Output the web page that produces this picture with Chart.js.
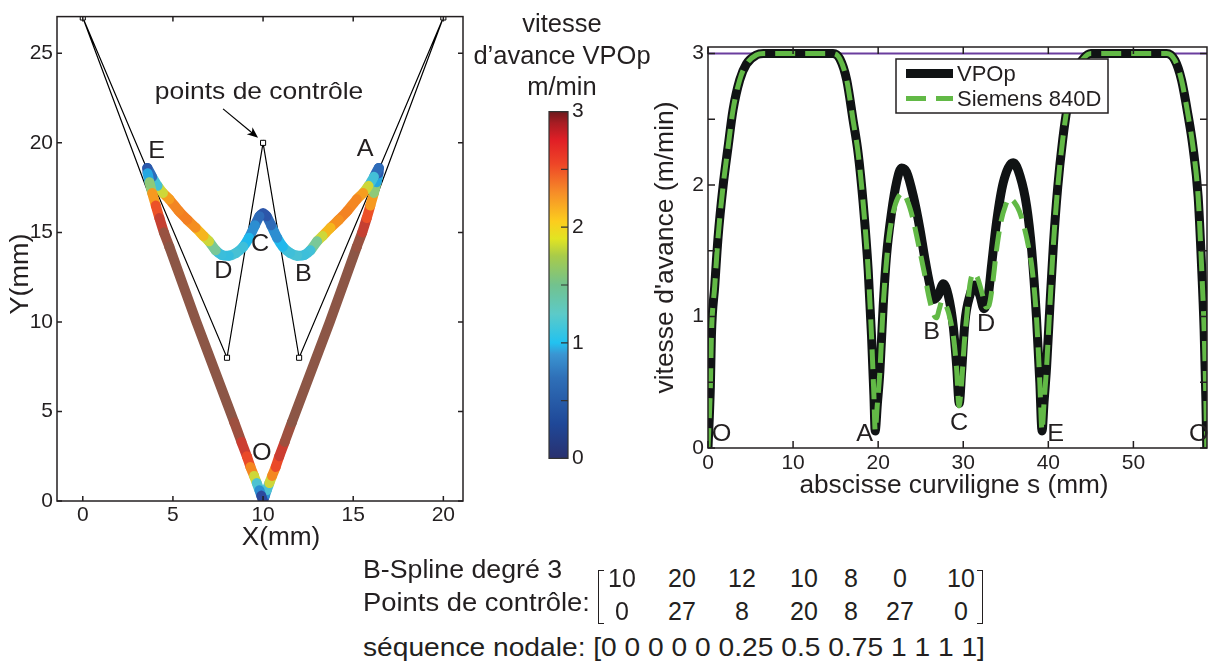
<!DOCTYPE html>
<html>
<head>
<meta charset="utf-8">
<script src="https://cdn.jsdelivr.net/npm/chart.js@4.4.1/dist/chart.umd.min.js"></script>
<style>
  body { margin: 0; background: #fff; }
  #page { position: relative; width: 1208px; height: 664px; overflow: hidden;
          font-family: 'Liberation Sans', Arial, Helvetica, sans-serif; color: #231f20; }
  .box { position: absolute; }
  .txt { position: absolute; white-space: pre; font-size: 25px; line-height: 1; transform-origin: 0 0; }
  .num { position: absolute; width: 60px; text-align: center; font-size: 25px; line-height: 1; }
  .brk { position: absolute; width: 5px; height: 52px; border: 1.5px solid #231f20; }
</style>
</head>
<body>
<div id="page">
  <div class="box" style="left:0;top:0;width:480px;height:560px"><canvas id="pathChart"></canvas></div>
  <div class="box" style="left:520px;top:95px;width:100px;height:380px"><canvas id="cbarChart"></canvas></div>
  <div class="box" style="left:600px;top:0;width:608px;height:520px"><canvas id="speedChart"></canvas></div>

  <div class="txt" style="left:442px;top:8px;width:240px;text-align:center;line-height:31.5px;font-size:25.5px">vitesse
d’avance VPOp
m/min</div>

  <div class="txt fit" data-w="199" style="left:363px;top:557px">B-Spline degré 3</div>
  <div class="txt fit" data-w="227" style="left:363px;top:590px">Points de contrôle:</div>
  <div class="txt fit" data-w="622" style="left:363px;top:635px" id="knotLine"></div>
  <div class="brk" style="left:598px;top:570px;border-right:none"></div>
  <div class="brk" style="left:977px;top:570px;border-left:none"></div>
  <div id="matrix"></div>
</div>

<script>
// ---- data ----
// control polygon of the B-spline (also the matrix under the plot)
const ctrlX = [10, 20, 12, 10, 8, 0, 10];
const ctrlY = [0, 27, 8, 20, 8, 27, 0];
const knots = [0, 0, 0, 0, 0, 0.25, 0.5, 0.75, 1, 1, 1, 1];

const pathX = [10.00, 10.10, 10.20, 10.35, 10.50, 10.70, 10.90, 11.20, 11.60, 13.70, 15.20, 15.50, 15.75, 15.95, 16.15, 16.30, 16.40, 16.42,
               16.15, 15.85, 15.55, 15.20, 14.67, 14.20, 13.74, 13.30, 13.00, 12.63, 12.30, 11.90, 11.50, 11.10, 10.78, 10.45, 10.20, 10.00,
               9.80, 9.55, 9.22, 8.90, 8.50, 8.10, 7.70, 7.37, 7.00, 6.70, 6.26, 5.80, 5.33, 4.80, 4.45, 4.15, 3.85, 3.58,
               3.60, 3.70, 3.85, 4.05, 4.25, 4.50, 4.80, 6.30, 8.40, 8.80, 9.10, 9.30, 9.50, 9.65, 9.80, 9.90, 10.00];
const pathY = [0.00, 0.30, 0.60, 1.00, 1.40, 1.90, 2.50, 3.30, 4.40, 10.00, 14.20, 15.00, 15.80, 16.50, 17.20, 17.80, 18.30, 18.60,
               18.10, 17.60, 17.20, 16.85, 16.19, 15.70, 15.26, 14.80, 14.50, 14.00, 13.75, 13.70, 13.85, 14.20, 14.70, 15.40, 15.90, 16.08,
               15.90, 15.40, 14.70, 14.20, 13.85, 13.70, 13.75, 14.00, 14.50, 14.80, 15.26, 15.70, 16.19, 16.85, 17.20, 17.60, 18.10, 18.60,
               18.30, 17.80, 17.20, 16.50, 15.80, 15.00, 14.20, 10.00, 4.40, 3.30, 2.50, 1.90, 1.40, 1.00, 0.60, 0.30, 0.00];
const pathV = [0.00, 0.50, 1.00, 1.50, 1.90, 2.30, 2.60, 2.85, 3.00, 3.00, 3.00, 2.90, 2.60, 2.20, 1.80, 1.20, 0.60, 0.12,
               0.90, 1.50, 1.90, 2.05, 2.15, 2.10, 2.00, 1.80, 1.60, 1.25, 1.13, 1.20, 1.25, 1.10, 0.90, 0.60, 0.40, 0.30,
               0.40, 0.60, 0.90, 1.10, 1.25, 1.20, 1.06, 1.25, 1.60, 1.80, 2.00, 2.12, 2.17, 2.05, 1.90, 1.50, 0.90, 0.13,
               0.60, 1.20, 1.80, 2.20, 2.60, 2.90, 3.00, 3.00, 3.00, 2.85, 2.60, 2.30, 1.90, 1.50, 1.00, 0.50, 0.00];

const pathXTicks = [0, 5, 10, 15, 20];
const pathYTicks = [0, 5, 10, 15, 20, 25];
const pathLabelText = ['E', 'A', 'C', 'D', 'B', 'O'];
const pathLabelX = [4.10, 15.66, 9.84, 7.80, 12.24, 9.93];
const pathLabelY = [19.52, 19.61, 14.33, 12.85, 12.67, 2.67];

// feedrate along the curvilinear abscissa s (mm)
const sVPOp = [0, 0.28, 0.40, 0.79, 1.18, 1.77, 2.36, 2.94, 3.73, 4.51, 5.70, 6.50, 14.70, 15.50, 16.30, 17.06, 17.65, 18.24, 18.83, 19.22,
               19.50, 19.65, 19.90, 20.20, 20.59, 20.98, 21.57, 22.16, 22.75, 23.33, 24.12, 24.90, 25.49, 26.08, 26.55, 27.06, 27.65, 28.24,
               28.82, 29.22, 29.53, 29.81, 30.20, 30.78, 31.37, 31.96, 32.43, 32.94, 33.33, 33.92, 34.71, 35.88, 36.67, 37.45, 38.05, 38.60,
               39.00, 39.26, 39.50, 39.80, 40.20, 40.60, 41.10, 41.70, 42.30, 43.10, 44.10, 45.00, 53.90, 54.87, 55.65, 56.40, 57.00, 57.61,
               58.00, 58.31, 58.51, 58.62];
const vVPOp = [0, 0.47, 0.85, 1.23, 1.60, 1.99, 2.29, 2.57, 2.80, 2.92, 2.99, 3.00, 3.00, 2.96, 2.80, 2.49, 2.24, 1.86, 1.35, 0.85,
               0.40, 0.13, 0.33, 0.58, 1.08, 1.46, 1.79, 2.02, 2.13, 2.10, 1.92, 1.67, 1.44, 1.24, 1.13, 1.16, 1.25, 1.16,
               0.93, 0.63, 0.34, 0.58, 0.96, 1.16, 1.24, 1.16, 1.06, 1.16, 1.39, 1.72, 2.02, 2.17, 2.07, 1.84, 1.50, 1.00,
               0.50, 0.13, 0.35, 0.62, 1.10, 1.55, 1.98, 2.35, 2.62, 2.85, 2.96, 3.00, 3.00, 2.95, 2.80, 2.54, 2.29, 1.91,
               1.40, 0.90, 0.39, 0.00];
const sSiemens = [0, 0.28, 0.40, 0.79, 1.18, 1.77, 2.36, 2.94, 3.73, 4.51, 5.70, 6.50, 14.70, 15.50, 16.30, 17.06, 17.65, 18.24, 18.83, 19.22,
                  19.50, 19.65, 19.90, 20.20, 20.59, 20.98, 21.30, 21.80, 22.30, 22.90, 23.50, 24.10, 24.70, 25.40, 26.00, 26.50, 26.85, 27.20,
                  27.50, 28.00, 28.50, 28.90, 29.22, 29.50, 29.81, 30.10, 30.45, 30.80, 31.20, 31.70, 32.20, 32.70, 33.00, 33.40, 33.90, 34.40,
                  35.00, 35.40, 36.00, 36.60, 37.20, 37.70, 38.10, 38.60, 39.00, 39.26, 39.50, 39.80, 40.20, 40.60, 41.10, 41.70, 42.30, 43.10,
                  44.10, 45.00, 53.90, 54.87, 55.65, 56.40, 57.00, 57.61, 58.00, 58.31, 58.51, 58.62];
const vSiemens = [0, 0.47, 0.85, 1.23, 1.60, 1.99, 2.29, 2.57, 2.80, 2.92, 2.99, 3.00, 3.00, 2.96, 2.80, 2.49, 2.24, 1.86, 1.35, 0.85,
                  0.40, 0.13, 0.33, 0.58, 1.08, 1.42, 1.62, 1.80, 1.90, 1.94, 1.87, 1.74, 1.56, 1.34, 1.14, 1.02, 0.99, 1.06,
                  1.12, 1.08, 0.97, 0.82, 0.60, 0.32, 0.50, 0.78, 1.03, 1.25, 1.33, 1.29, 1.18, 1.07, 1.08, 1.22, 1.50, 1.71,
                  1.85, 1.90, 1.87, 1.80, 1.67, 1.52, 1.36, 1.00, 0.50, 0.13, 0.35, 0.62, 1.10, 1.55, 1.98, 2.35, 2.62, 2.85,
                  2.96, 3.00, 3.00, 2.95, 2.80, 2.54, 2.29, 1.91, 1.40, 0.90, 0.39, 0.00];
const sVmax = [0, 58.65];
const vVmax = [3, 3];

const speedXTicks = [0, 10, 20, 30, 40, 50];
const speedYTicks = [0, 0.5, 1, 1.5, 2, 2.5, 3];
const speedLabelText = ['O', 'A', 'B', 'C', 'D', 'E', 'O'];
const speedLabelX = [1.6, 18.4, 26.3, 29.5, 32.7, 40.85, 57.7];
const speedLabelY = [0.10, 0.10, 0.88, 0.19, 0.94, 0.10, 0.10];

const cbarTicks = [0, 0.5, 1, 1.5, 2, 2.5, 3];

// ---- colour maps (style) ----
const curveStops  = [0, 0.3, 0.7, 1.0, 1.3, 1.55, 1.8, 1.95, 2.3, 2.6, 2.85, 3.0];
const curveColors = ['#2b2c7c', '#2c4fa4', '#2f86cc', '#1fb8ec', '#55c4cc', '#9ccb64', '#f0df1c', '#f7a21e', '#ef6226', '#e5302a', '#b04a38', '#8c5646'];
const cbarStops   = [0, 0.3, 0.7, 0.9, 1.0, 1.25, 1.5, 1.75, 1.9, 2.05, 2.3, 2.55, 2.75, 2.9, 3.0];
const cbarColors  = ['#29306f', '#1f4898', '#2f70b8', '#3a95d2', '#22c2f0', '#5ccac8', '#72c28e', '#a8cb4a', '#e2e422', '#fccd1e', '#f68d28', '#ee4527', '#e11f26', '#a81c23', '#6e191c'];

const ink = '#231f20';
const FONT = "'Liberation Sans', Arial, Helvetica, sans-serif";
Chart.defaults.font.family = FONT;
Chart.defaults.font.size = 21;
Chart.defaults.color = ink;

function hexRgb(h) {
    return [parseInt(h.slice(1, 3), 16), parseInt(h.slice(3, 5), 16), parseInt(h.slice(5, 7), 16)];
}

function mapColor(v, stops, colors) {
    if (v <= stops[0]) return colors[0];
    for (let i = 1; i < stops.length; i++) {
        if (v <= stops[i]) {
            const t = (v - stops[i - 1]) / (stops[i] - stops[i - 1]);
            const a = hexRgb(colors[i - 1]), b = hexRgb(colors[i]);
            const c = a.map((x, k) => Math.round(x + (b[k] - x) * t));
            return `rgb(${c[0]},${c[1]},${c[2]})`;
        }
    }
    return colors[colors.length - 1];
}

function drawText(ctx, text, x, y, size, opt = {}) {
    ctx.save();
    ctx.translate(x, y);
    if (opt.rotate) ctx.rotate(opt.rotate);
    ctx.scale(opt.sx || 1, 1);
    ctx.font = size + 'px ' + FONT;
    ctx.fillStyle = ink;
    ctx.textAlign = opt.align || 'center';
    ctx.textBaseline = opt.baseline || 'middle';
    ctx.fillText(text, 0, 0);
    ctx.restore();
}

// box round the plot with inward tick marks (MATLAB look)
const frame = {
    id: 'frame',
    afterDatasetsDraw(chart, args, o) {
        const { ctx, chartArea: a } = chart;
        const xs = chart.scales.x, ys = chart.scales.y;
        ctx.save();
        ctx.strokeStyle = o.color;
        ctx.lineWidth = o.width;
        ctx.strokeRect(a.left, a.top, a.right - a.left, a.bottom - a.top);
        ctx.beginPath();
        if (o.xTicks) xs.ticks.forEach(t => {
            const p = xs.getPixelForValue(t.value);
            ctx.moveTo(p, a.bottom); ctx.lineTo(p, a.bottom - o.len);
            ctx.moveTo(p, a.top); ctx.lineTo(p, a.top + o.len);
        });
        ys.ticks.forEach(t => {
            const p = ys.getPixelForValue(t.value);
            if (o.yLeft) { ctx.moveTo(a.left, p); ctx.lineTo(a.left + o.len, p); }
            ctx.moveTo(a.right, p); ctx.lineTo(a.right - o.len, p);
        });
        ctx.stroke();
        ctx.restore();
    }
};

const pathNotes = {
    id: 'pathNotes',
    afterDraw(chart) {
        const { ctx } = chart;
        const xs = chart.scales.x, ys = chart.scales.y;
        pathLabelText.forEach((t, i) =>
            drawText(ctx, t, xs.getPixelForValue(pathLabelX[i]), ys.getPixelForValue(pathLabelY[i]), 24, { sx: 1.05 }));

        // arrow to the control point (10,20)
        const px = xs.getPixelForValue(ctrlX[3]), py = ys.getPixelForValue(ctrlY[3]);
        const tx = px - 5, ty = py - 5, fx = px - 40, fy = py - 34;
        const ang = Math.atan2(ty - fy, tx - fx);
        ctx.save();
        ctx.strokeStyle = '#000'; ctx.fillStyle = '#000'; ctx.lineWidth = 1.2;
        ctx.beginPath(); ctx.moveTo(fx, fy); ctx.lineTo(tx - 6 * Math.cos(ang), ty - 6 * Math.sin(ang)); ctx.stroke();
        ctx.beginPath();
        ctx.moveTo(tx, ty);
        ctx.lineTo(tx - 11 * Math.cos(ang) + 4.5 * Math.sin(ang), ty - 11 * Math.sin(ang) - 4.5 * Math.cos(ang));
        ctx.lineTo(tx - 8 * Math.cos(ang), ty - 8 * Math.sin(ang));
        ctx.lineTo(tx - 11 * Math.cos(ang) - 4.5 * Math.sin(ang), ty - 11 * Math.sin(ang) + 4.5 * Math.cos(ang));
        ctx.closePath(); ctx.fill();
        ctx.restore();
        drawText(ctx, 'points de contrôle', px - 4, py - 44, 24, { sx: 1.1, baseline: 'alphabetic' });

        drawText(ctx, 'Y(mm)', 21, 274, 25, { rotate: -Math.PI / 2, sx: 1.08 });
        drawText(ctx, 'X(mm)', 281, 538, 25, { sx: 1.05 });
    }
};

const speedNotes = {
    id: 'speedNotes',
    afterDraw(chart) {
        const { ctx, chartArea: a } = chart;
        const xs = chart.scales.x, ys = chart.scales.y;
        speedLabelText.forEach((t, i) =>
            drawText(ctx, t, xs.getPixelForValue(speedLabelX[i]), ys.getPixelForValue(speedLabelY[i]), 24, { sx: 1.05 }));
        drawText(ctx, "vitesse d'avance (m/min)", 66, (a.top + a.bottom) / 2, 25, { rotate: -Math.PI / 2, sx: 1.06 });
        drawText(ctx, 'abscisse curviligne s (mm)', 354, 486, 25, { sx: 1.05 });

        // legend box
        const lx = 296, ly = 59, lw = 212, lh = 54;
        ctx.save();
        ctx.fillStyle = '#fff';
        ctx.fillRect(lx, ly, lw, lh);
        ctx.strokeStyle = ink; ctx.lineWidth = 1.5;
        ctx.strokeRect(lx, ly, lw, lh);
        ctx.restore();
        [0, 1].forEach((di, row) => {
            const ds = chart.data.datasets[di];
            const yy = ly + 14.5 + row * 25;
            ctx.save();
            ctx.strokeStyle = ds.borderColor;
            ctx.lineWidth = ds.borderWidth;
            ctx.setLineDash(ds.borderDash || []);
            ctx.beginPath(); ctx.moveTo(lx + 10, yy); ctx.lineTo(lx + 57, yy); ctx.stroke();
            ctx.restore();
            drawText(ctx, ds.label, lx + 61, yy + 1, 22, { align: 'left', sx: 1.0 });
        });
    }
};

function fixWidth(w) { return s => { s.width = w; }; }
function fixHeight(h) { return s => { s.height = h; }; }
function setTicks(list) { return s => { s.ticks = list.map(v => ({ value: v })); }; }
const noGrid = { display: false, drawTicks: false, tickLength: 0 };

// ---- left: tool path coloured by feedrate ----
new Chart(document.getElementById('pathChart'), {
    type: 'scatter',
    data: {
        datasets: [
            {
                label: 'trajet',
                data: pathX.map((x, i) => ({ x: x, y: pathY[i] })),
                showLine: true,
                borderWidth: 10,
                borderCapStyle: 'round',
                borderJoinStyle: 'round',
                tension: 0.2,
                pointRadius: 0,
                segment: {
                    borderColor: c => mapColor((pathV[c.p0DataIndex] + pathV[c.p1DataIndex]) / 2, curveStops, curveColors)
                },
                order: 0
            },
            {
                label: 'points de contrôle',
                data: ctrlX.map((x, i) => ({ x: x, y: ctrlY[i] })),
                showLine: true,
                borderColor: '#000',
                borderWidth: 1.2,
                pointStyle: 'rect',
                pointRadius: 3.6,
                pointBorderWidth: 1,
                pointBackgroundColor: '#fff',
                pointBorderColor: '#000',
                order: 1
            }
        ]
    },
    options: {
        responsive: true,
        maintainAspectRatio: false,
        animation: false,
        events: [],
        layout: { padding: { top: 14, right: 17, left: 0, bottom: 0 } },
        plugins: {
            legend: { display: false },
            tooltip: { enabled: false },
            frame: { color: ink, width: 1.5, len: 5, xTicks: true, yLeft: true }
        },
        scales: {
            x: {
                type: 'linear', min: -1.43, max: 21.09,
                afterBuildTicks: setTicks(pathXTicks),
                afterFit: fixHeight(59),
                grid: noGrid, border: { display: false },
                ticks: { padding: 2, maxRotation: 0, autoSkip: false }
            },
            y: {
                type: 'linear', min: 0, max: 27.05,
                afterBuildTicks: setTicks(pathYTicks),
                afterFit: fixWidth(57),
                grid: noGrid, border: { display: false },
                ticks: { padding: 4, autoSkip: false }
            }
        }
    },
    plugins: [frame, pathNotes]
});

// ---- colour bar ----
new Chart(document.getElementById('cbarChart'), {
    type: 'bar',
    data: {
        labels: [''],
        datasets: [{
            data: [[cbarTicks[0], cbarTicks[cbarTicks.length - 1]]],
            barPercentage: 1,
            categoryPercentage: 1,
            borderWidth: 0,
            backgroundColor: c => {
                const a = c.chart.chartArea;
                if (!a) return '#888';
                const g = c.chart.ctx.createLinearGradient(0, a.bottom, 0, a.top);
                cbarStops.forEach((s, i) => g.addColorStop(s / 3, cbarColors[i]));
                return g;
            }
        }]
    },
    options: {
        responsive: true,
        maintainAspectRatio: false,
        animation: false,
        events: [],
        layout: { padding: { top: 12, bottom: 12, left: 29, right: 0 } },
        plugins: {
            legend: { display: false },
            tooltip: { enabled: false },
            frame: { color: '#333', width: 1.2, len: 7, xTicks: false, yLeft: false }
        },
        scales: {
            x: { display: false },
            y: {
                position: 'right', min: 0, max: 3,
                afterBuildTicks: setTicks(cbarTicks),
                afterFit: fixWidth(52),
                grid: noGrid, border: { display: false },
                ticks: { padding: 4, autoSkip: false, callback: v => Number.isInteger(v) ? String(v) : '' }
            }
        }
    },
    plugins: [frame]
});

// ---- right: feedrate along the path ----
const toXY = (xs, ys) => xs.map((x, i) => ({ x: x, y: ys[i] }));
new Chart(document.getElementById('speedChart'), {
    type: 'scatter',
    data: {
        datasets: [
            {
                label: 'VPOp',
                data: toXY(sVPOp, vVPOp),
                showLine: true,
                borderColor: '#101314',
                borderWidth: 9,
                borderJoinStyle: 'round',
                borderCapStyle: 'round',
                cubicInterpolationMode: 'monotone',
                pointRadius: 0,
                order: 1
            },
            {
                label: 'Siemens 840D',
                data: toXY(sSiemens, vSiemens),
                showLine: true,
                borderColor: '#62b946',
                borderWidth: 5,
                borderDash: [20, 10],
                cubicInterpolationMode: 'monotone',
                pointRadius: 0,
                order: 0
            },
            {
                label: 'vmax',
                data: toXY(sVmax, vVmax),
                showLine: true,
                borderColor: '#6a3d9e',
                borderWidth: 2,
                pointRadius: 0,
                order: 2
            }
        ]
    },
    options: {
        responsive: true,
        maintainAspectRatio: false,
        animation: false,
        events: [],
        layout: { padding: { top: 47, right: 1, left: 0, bottom: 0 } },
        plugins: {
            legend: { display: false },
            tooltip: { enabled: false },
            frame: { color: ink, width: 1.5, len: 7, xTicks: true, yLeft: true }
        },
        scales: {
            x: {
                type: 'linear', min: 0, max: 58.65,
                afterBuildTicks: setTicks(speedXTicks),
                afterFit: fixHeight(72),
                grid: noGrid, border: { display: false },
                ticks: { padding: 3, maxRotation: 0, autoSkip: false }
            },
            y: {
                type: 'linear', min: 0, max: 3.05,
                afterBuildTicks: setTicks(speedYTicks),
                afterFit: fixWidth(108),
                grid: noGrid, border: { display: false },
                ticks: { padding: 4, autoSkip: false,
                         callback: v => Number.isInteger(v) ? String(v) : '' }
            }
        }
    },
    plugins: [frame, speedNotes]
});

// ---- text block under the plots ----
document.getElementById('knotLine').textContent = 'séquence nodale: [' + knots.join(' ') + ']';
const colCenters = [622, 682, 742, 804, 851, 900, 961];
const matrix = document.getElementById('matrix');
[ctrlX, ctrlY].forEach((row, r) => {
    row.forEach((v, i) => {
        const d = document.createElement('div');
        d.className = 'num';
        d.style.left = (colCenters[i] - 30) + 'px';
        d.style.top = (566 + r * 33) + 'px';
        d.textContent = String(v);
        matrix.appendChild(d);
    });
});
document.querySelectorAll('.fit').forEach(el => {
    const w = el.getBoundingClientRect().width;
    const target = Number(el.dataset.w);
    if (w > 0) el.style.transform = `scaleX(${(target / w).toFixed(3)})`;
});
</script>
</body>
</html>
